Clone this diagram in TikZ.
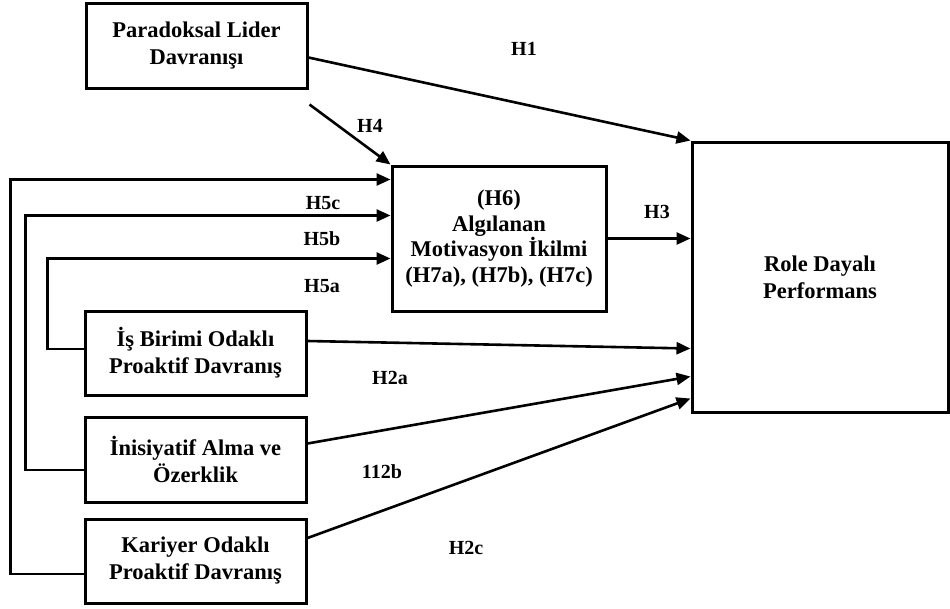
\documentclass[tikz,border=0pt]{standalone}
\usepackage{fontspec}
\setmainfont{Liberation Serif}
\usetikzlibrary{arrows.meta}
\tikzstyle{box} = [rectangle, draw, line width=3pt, align=center, text centered, inner sep=0pt, font=\fontsize{22.5}{27}\selectfont\bfseries]
\tikzstyle{lbl} = [font=\fontsize{20}{24}\selectfont\bfseries]
\tikzstyle{arrow} = [line width=2.6pt, -{Triangle[length=14pt,width=12pt]}]

\begin{document}
\begin{tikzpicture}[x=1pt, y=-1pt]
            \useasboundingbox (0,0) rectangle (950,608);
            \node [box, minimum width=221pt, minimum height=85pt] at (196.5,45.5) (para) {Paradoksal Lider\\Davranışı};
            \node [box, minimum width=214pt, minimum height=145pt, font=\fontsize{22.5}{25.5}\selectfont\bfseries] at (499,238.5) (med) {(H6)\\Algılanan\\Motivasyon İkilmi\\(H7a), (H7b), (H7c)};
            \node [box, minimum width=256pt, minimum height=270pt] at (820,277) (role) {Role Dayalı\\Performans};
            \node [box, minimum width=221pt, minimum height=84pt] at (195.5,353) (isb) {İş Birimi Odaklı\\Proaktif Davranış};
            \node [box, minimum width=221pt, minimum height=85pt] at (195.5,459.5) (ini) {İnisiyatif Alma ve\\Özerklik};
            \node [box, minimum width=221pt, minimum height=84pt] at (195.5,561) (kar) {Kariyer Odaklı\\Proaktif Davranış};
            % labels
            \node [lbl] at (524,49) (h1) {H1};
            \node [lbl] at (370,126) (h4) {H4};
            \node [lbl] at (657,212) (h3) {H3};
            \node [lbl] at (323,203) (h5c) {H5c};
            \node [lbl] at (322,239) (h5b) {H5b};
            \node [lbl] at (322,286) (h5a) {H5a};
            \node [lbl] at (390,378) (h2a) {H2a};
            \node [lbl] at (382,472) (h2b) {112b};
            \node [lbl] at (466,548) (h2c) {H2c};
            % arrows to role
            \draw [arrow] ([yshift=-12pt]para.east) -- (role.north west);
            \draw [arrow] ([shift={(1pt,-15pt)}]para.south east) -- (med.north west);
            \draw [arrow] (med.east) -- (med.east -| role.west);
            \draw [arrow] ([yshift=12pt]isb.east) -- ([yshift=-208pt]role.north west);
            \draw [arrow] ([yshift=16pt]ini.east) -- ([yshift=-236pt]role.north west);
            \draw [arrow] ([yshift=23pt]kar.east) -- ([yshift=-258pt]role.north west);
            % feedback lines
            \draw [arrow] ([yshift=4pt]isb.west) -- ++(-36,0) |- ([yshift=-94pt]med.north west);
            \draw [arrow] ([yshift=-10.5pt]ini.west) -- ++(-58,0) |- ([yshift=-51pt]med.north west);
            \draw [arrow] ([yshift=-13pt]kar.west) -- ++(-73,0) |- ([yshift=-15pt]med.north west);
\end{tikzpicture}
\end{document}
